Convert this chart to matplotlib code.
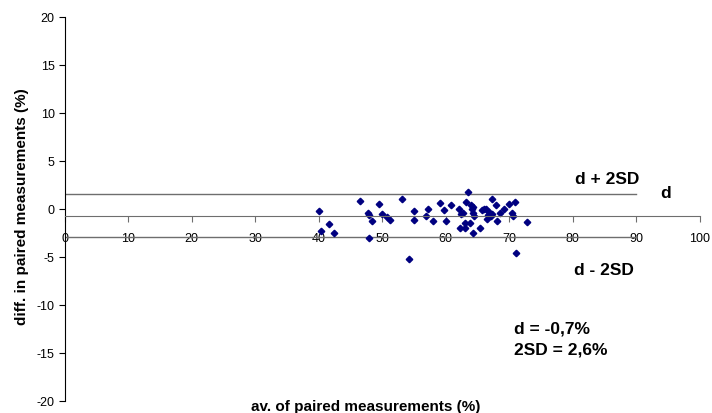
import matplotlib.pyplot as plt

plt.rcParams['font.family'] = ['Liberation Sans', 'DejaVu Sans']
plt.rcParams['axes.unicode_minus'] = False

# average of the paired measurements (%)
avg = [40.1, 40.4, 41.7, 42.4, 46.5, 47.8, 48.0, 48.4, 48.0, 49.6,
       50.0, 50.8, 51.3, 53.1, 54.2, 55.0, 55.0, 57.2, 56.9, 58.0,
       59.2, 59.7, 60.0, 60.9, 62.2, 62.5, 62.8, 62.3, 63.1, 63.1,
       63.5, 63.3, 63.9, 64.0, 64.1, 64.3, 64.4, 64.5, 64.4, 65.4,
       65.7, 66.1, 66.4, 66.6, 66.7, 66.9, 67.2, 67.3, 67.4, 68.0,
       68.1, 68.6, 69.2, 70.0, 70.5, 70.6, 70.9, 71.1, 72.9]
# difference in the paired measurements (%)
diff = [-0.2, -2.3, -1.6, -2.5, 0.8, -0.45, -0.6, -1.2, -3.05, 0.5,
        -0.55, -0.8, -1.1, 1.05, -5.25, -0.2, -1.15, -0.03, -0.77, -1.3,
        0.66, -0.1, -1.3, 0.38, -0.03, -0.5, -0.38, -1.98, -1.98, -1.46,
        1.74, 0.76, -1.42, 0.45, -0.03, 0.17, -0.38, -0.7, -2.5, -1.98,
        -0.14, -0.03, 0.03, -1.07, -0.63, -0.35, -0.7, 1.0, -0.52, 0.38,
        -1.25, -0.38, 0.03, 0.49, -0.45, -0.7, 0.76, -4.6, -1.39]

d_mean = -0.7
upper = 1.6
lower = -2.95
xticks = [0, 10, 20, 30, 40, 50, 60, 70, 80, 90, 100]
yticks = [-20, -15, -10, -5, 0, 5, 10, 15, 20]

fig = plt.figure(figsize=(7.12, 4.14), dpi=100)
ax = fig.add_axes([64.5 / 712, 12 / 414, 635 / 712, 384 / 414])

line_col = '#6e6e6e'
ax.plot([0, 90], [upper, upper], color=line_col, lw=1)
ax.plot([0, 90], [lower, lower], color=line_col, lw=1)
ax.plot(avg, diff, 'D', color='#000080', ms=3.3, mec='#000080')

ax.set_xlim(0, 100)
ax.set_ylim(-20, 20)
ax.set_xticks(xticks)
ax.set_yticks(yticks)
ax.spines['top'].set_visible(False)
ax.spines['right'].set_visible(False)
ax.spines['bottom'].set_position(('data', d_mean))
ax.spines['bottom'].set_color(line_col)
ax.tick_params(axis='x', direction='out', length=4, pad=8, labelsize=9, color=line_col)
ax.tick_params(axis='y', direction='out', length=4, pad=3, labelsize=9)

ax.set_ylabel('diff. in paired measurements (%)', fontsize=11, fontweight='bold')
ax.yaxis.set_label_coords(-0.0555, 0.51)
fig.text(366 / 712, 1 - 407 / 414, 'av. of paired measurements (%)',
         ha='center', va='center', fontsize=11, fontweight='bold')

ax.text(85.4, 3.2, 'd + 2SD', ha='center', va='center', fontsize=12.5, fontweight='bold')
ax.text(94.7, 1.75, 'd', ha='center', va='center', fontsize=12.5, fontweight='bold')
ax.text(85.0, -6.3, 'd - 2SD', ha='center', va='center', fontsize=12.5, fontweight='bold')
ax.text(70.8, -12.4, 'd = -0,7%', ha='left', va='center', fontsize=12.5, fontweight='bold')
ax.text(70.8, -14.6, '2SD = 2,6%', ha='left', va='center', fontsize=12.5, fontweight='bold')

fig.savefig('out.png', dpi=100)
